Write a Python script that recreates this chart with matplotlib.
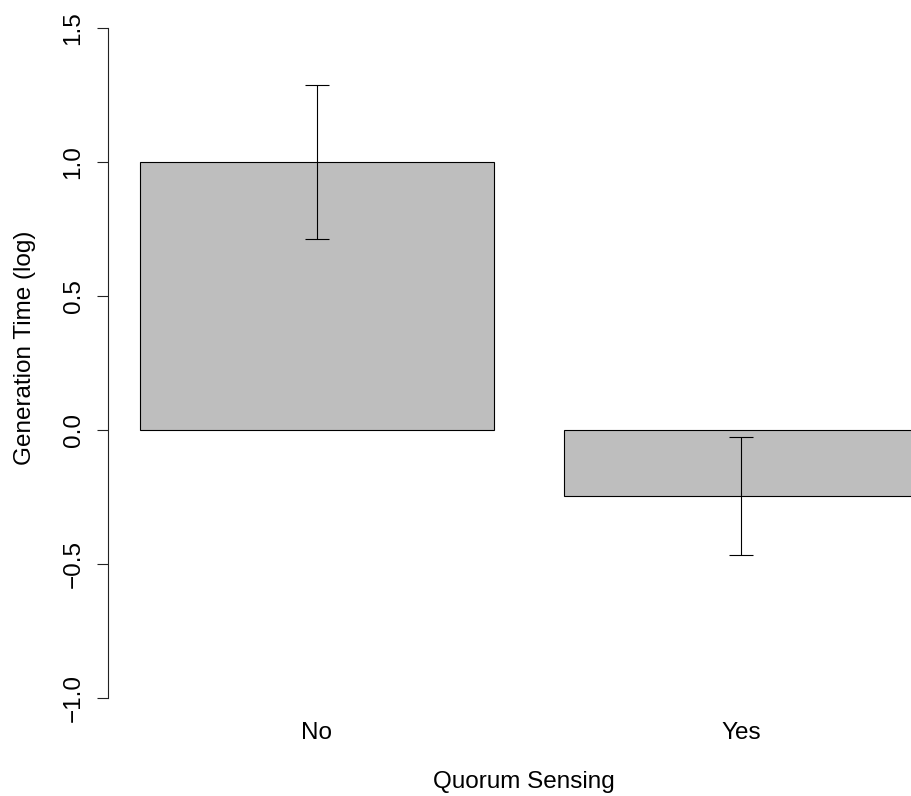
import numpy as np
import matplotlib
matplotlib.use("Agg")
import matplotlib.pyplot as plt

plt.rcParams['font.family'] = ['Liberation Sans', 'DejaVu Sans']

# mean log generation time and standard error per group
groups = ["No", "Yes"]
gen_time = [1.0, -0.246]
gen_err = [0.287, 0.22]

# bar layout: width 1, space 0.2 between bars
bar_x = [0.7, 1.9]

fig = plt.figure(figsize=(9.11, 7.96), dpi=100)
ax = fig.add_axes([108 / 911, 1 - 698 / 796, (911 - 108) / 911, 670 / 796])

ax.bar(bar_x, gen_time, width=1.0, color="#bebebe", edgecolor="black", linewidth=0.8)
ax.errorbar(bar_x, gen_time, yerr=gen_err, fmt="none", ecolor="black",
            elinewidth=0.8, capsize=8.6, capthick=0.8)

# 353.5 px per bar unit, first bar edge (0.2) sits 32 px right of the axis
ax.set_xlim(0.2 - 32 / 353.5, 0.2 + 771 / 353.5)
ax.set_ylim(-1.0, 1.5)

for s in ["top", "right", "bottom"]:
    ax.spines[s].set_visible(False)
ax.spines["left"].set_linewidth(0.8)
ax.spines["left"].set_color("#222222")

ax.set_yticks([-1.0, -0.5, 0.0, 0.5, 1.0, 1.5])
ax.set_yticklabels(["\u22121.0", "\u22120.5", "0.0", "0.5", "1.0", "1.5"],
                   rotation=90, va="center", fontsize=17.5)
ax.tick_params(axis="y", length=7.9, width=0.8, color="#222222", pad=9)

ax.set_xticks(bar_x)
ax.set_xticklabels(groups, fontsize=17.5)
ax.tick_params(axis="x", length=0, pad=17)

fig.text(25.5 / 911, 1 - 348 / 796, "Generation Time (log)", rotation=90,
         ha="center", va="center", fontsize=17.5)
fig.text(524 / 911, 1 - 788 / 796, "Quorum Sensing", ha="center",
         va="baseline", fontsize=17.5)

fig.savefig("out.png", dpi=100)
